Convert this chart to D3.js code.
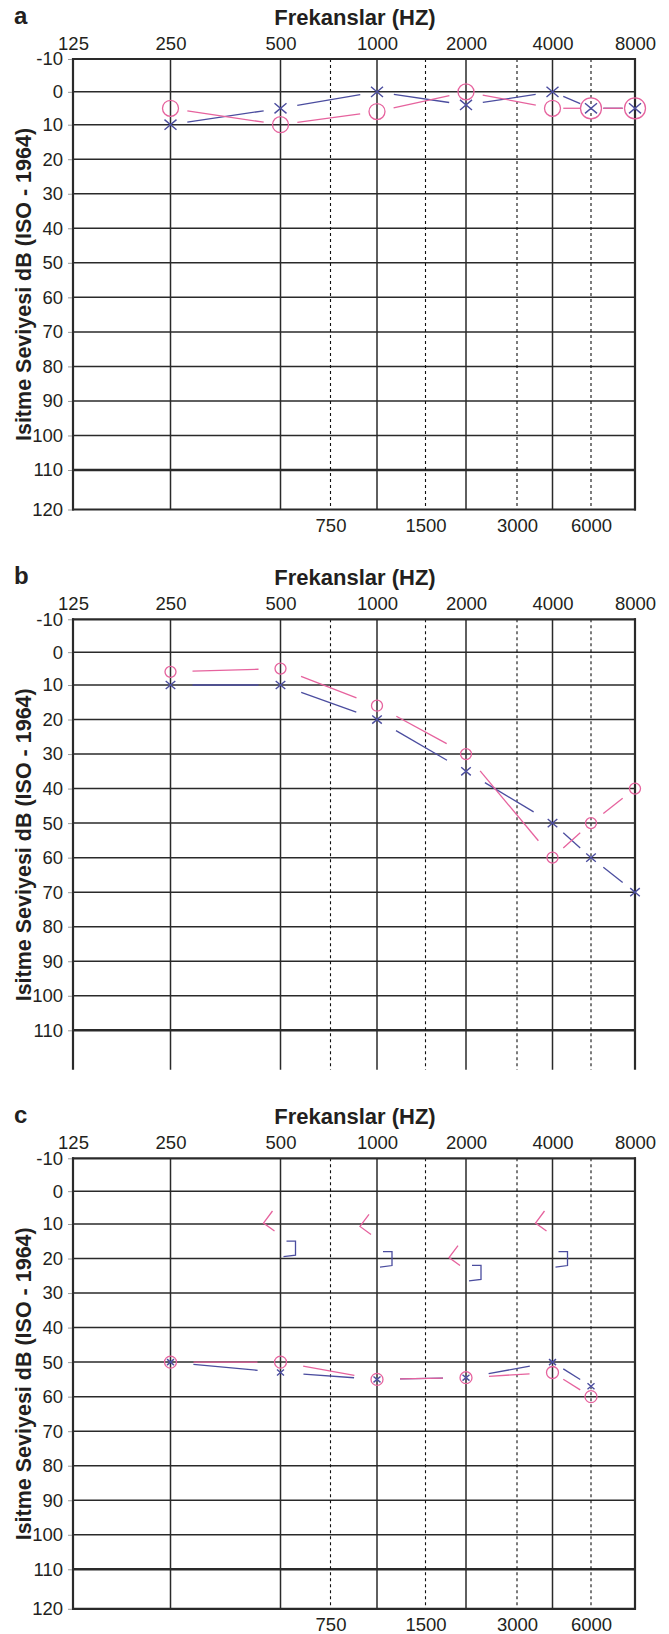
<!DOCTYPE html>
<html>
<head>
<meta charset="utf-8">
<script src="https://cdn.jsdelivr.net/npm/d3@7"></script>
<style>
  body { margin: 0; background: #fff; }
  svg text { font-family: "Liberation Sans", Arial, Helvetica, sans-serif; fill: #231f20; }
</style>
</head>
<body>
<svg id="chart" width="669" height="1634"></svg>
<script>
// axes
// ----------
var topFreqs = [125, 250, 500, 1000, 2000, 4000, 8000];
var midFreqs = [750, 1500, 3000, 6000];
var dbTicks = [-10, 0, 10, 20, 30, 40, 50, 60, 70, 80, 90, 100, 110, 120];

// panel a
var freqsA = [250, 500, 1000, 2000, 4000, 6000, 8000];
var rightA = [5, 10, 6, 0, 5, 5, 5];
var leftA = [10, 5, 0, 4, 0, 5, 5];

// panel b
var freqsB = [250, 500, 1000, 2000, 4000, 6000, 8000];
var rightB = [6, 5, 16, 30, 60, 50, 40];
var leftB = [10, 10, 20, 35, 50, 60, 70];

// panel c
var freqsC = [250, 500, 1000, 2000, 4000, 6000];
var rightC = [50, 50, 55, 54.5, 53, 60];
var leftC = [50, 53, 55, 54.5, 50, 57];
var boneFreqsC = [500, 1000, 2000, 4000];
var boneRightC = [10, 11, 20, 10];
var boneLeftC = [17, 20, 24, 20];

var pink = "#e6639e", blue = "#4b4d9f", ink = "#2a2a2a";
var tickFont = "18.5px";

var svg = d3.select("#chart");

// the audiogram grid is not a true log scale, so each line gets its own stop
var x = d3.scaleLog()
  .domain([125, 250, 500, 750, 1000, 1500, 2000, 3000, 4000, 6000, 8000])
  .range([73, 170.5, 280.5, 330.5, 377, 425.5, 466, 517, 552.5, 591, 635]);

var x0 = x(125), x1 = x(8000);

var panels = [
  { letter: "a", top: 59, closed: true, freqs: freqsA, right: rightA, left: leftA,
    ring: 8, bigRing: 10.5, cross: 6, gap: 17 },
  { letter: "b", top: 619.3, closed: false, freqs: freqsB, right: rightB, left: leftB,
    ring: 5.5, bigRing: 5.5, cross: 4.8, gap: 22 },
  { letter: "c", top: 1158.3, closed: true, freqs: freqsC, right: rightC, left: leftC,
    ring: 6, bigRing: 6, cross: 3.5, gap: 23,
    boneFreqs: boneFreqsC, boneRight: boneRightC, boneLeft: boneLeftC }
];

// plain hyphen for -10, like the printed chart
var plain = function(d) { return String(d); };

panels.forEach(function(p) {
  var g = svg.append("g").attr("class", "panel-" + p.letter);

  // first two rows are drawn a little shorter, the last one a little taller
  var y = d3.scaleLinear()
    .domain([-10, 10, 110, 120])
    .range([p.top, p.top + 65.7, p.top + 411, p.top + 450.5]);
  var yEnd = y(120);

  // grid
  // ----------
  var grid = g.append("g");

  grid.selectAll(".hline")
    .data(d3.range(0, 111, 10))
    .join("line")
      .attr("x1", x0).attr("x2", x1)
      .attr("y1", function(d) { return y(d); })
      .attr("y2", function(d) { return y(d); })
      .attr("stroke", ink)
      .attr("stroke-width", function(d) { return d === 110 ? 2.6 : 1.5; });

  grid.selectAll(".vline")
    .data([250, 500, 1000, 2000, 4000])
    .join("line")
      .attr("x1", function(d) { return x(d); })
      .attr("x2", function(d) { return x(d); })
      .attr("y1", y(-10)).attr("y2", yEnd)
      .attr("stroke", ink)
      .attr("stroke-width", 1.5);

  grid.selectAll(".dline")
    .data(midFreqs)
    .join("line")
      .attr("x1", function(d) { return x(d); })
      .attr("x2", function(d) { return x(d); })
      .attr("y1", y(-10)).attr("y2", yEnd)
      .attr("stroke", "#111")
      .attr("stroke-width", 1.1)
      .attr("stroke-dasharray", "3,3");

  // frame
  grid.selectAll(".border")
    .data([125, 8000])
    .join("line")
      .attr("x1", function(d) { return x(d); })
      .attr("x2", function(d) { return x(d); })
      .attr("y1", y(-10) - 1).attr("y2", yEnd + (p.closed ? 1 : 0))
      .attr("stroke", ink)
      .attr("stroke-width", 2.2);

  grid.append("line")
    .attr("x1", x0 - 1).attr("x2", x1 + 1)
    .attr("y1", y(-10)).attr("y2", y(-10))
    .attr("stroke", ink).attr("stroke-width", 2.2);

  if (p.closed) {
    grid.append("line")
      .attr("x1", x0 - 1).attr("x2", x1 + 1)
      .attr("y1", yEnd).attr("y2", yEnd)
      .attr("stroke", ink).attr("stroke-width", 2.2);
  }

  // axes
  // ----------
  var yAxis = g.append("g")
    .attr("transform", "translate(" + (x0 - 1) + ",0)")
    .call(d3.axisLeft(y)
      .tickValues(p.closed ? dbTicks : dbTicks.slice(0, -1))
      .tickFormat(plain)
      .tickSize(4).tickPadding(5));
  yAxis.select(".domain").remove();
  yAxis.selectAll(".tick line").attr("stroke", "#999");
  yAxis.selectAll("text").style("font-size", tickFont).attr("fill", "#231f20");

  var topAxis = g.append("g")
    .attr("transform", "translate(0," + y(-10) + ")")
    .call(d3.axisTop(x).tickValues(topFreqs).tickSize(0).tickPadding(9)
      .tickFormat(plain));
  topAxis.select(".domain").remove();
  topAxis.selectAll("text").style("font-size", tickFont).attr("fill", "#231f20");

  if (p.closed) {
    var botAxis = g.append("g")
      .attr("transform", "translate(0," + yEnd + ")")
      .call(d3.axisBottom(x).tickValues(midFreqs).tickSize(0).tickPadding(9)
        .tickFormat(plain));
    botAxis.select(".domain").remove();
    botAxis.selectAll("text").style("font-size", tickFont).attr("fill", "#231f20");
  }

  g.append("text")
    .attr("x", 355).attr("y", p.top - 34)
    .attr("text-anchor", "middle")
    .style("font-size", "22px").style("font-weight", "bold")
    .text("Frekanslar (HZ)");

  g.append("text")
    .attr("x", 14).attr("y", p.top - 35)
    .style("font-size", "24px").style("font-weight", "bold")
    .text(p.letter);

  g.append("text")
    .attr("transform", "translate(31," + (p.top + 225.5) + ") rotate(-90)")
    .attr("text-anchor", "middle")
    .style("font-size", "21.5px").style("font-weight", "bold")
    .text("Isitme Seviyesi dB (ISO - 1964)");

  // threshold lines, broken short of each symbol
  // ----------
  function series(vals) {
    return p.freqs.map(function(f, i) { return { f: f, v: vals[i] }; });
  }

  function drawLinks(vals, color) {
    var pts = series(vals);
    var segs = d3.pairs(pts).map(function(pr) {
      var ax = x(pr[0].f), ay = y(pr[0].v), bx = x(pr[1].f), by = y(pr[1].v);
      var len = Math.hypot(bx - ax, by - ay);
      var t = Math.min(p.gap, len * 0.28) / len;
      return [ax + (bx - ax) * t, ay + (by - ay) * t, bx - (bx - ax) * t, by - (by - ay) * t];
    });
    g.append("g").selectAll("line")
      .data(segs)
      .join("line")
        .attr("x1", function(d) { return d[0]; })
        .attr("y1", function(d) { return d[1]; })
        .attr("x2", function(d) { return d[2]; })
        .attr("y2", function(d) { return d[3]; })
        .attr("stroke", color)
        .attr("stroke-width", 1.3);
  }

  drawLinks(p.left, blue);
  drawLinks(p.right, pink);

  // symbols
  var cw = p.cross, ch = p.cross * 0.85;
  g.append("g").selectAll("path")
    .data(series(p.left))
    .join("path")
      .attr("d", function(d) {
        var cx = x(d.f), cy = y(d.v);
        return "M" + (cx - cw) + "," + (cy - ch) + "L" + (cx + cw) + "," + (cy + ch) +
               "M" + (cx - cw) + "," + (cy + ch) + "L" + (cx + cw) + "," + (cy - ch);
      })
      .attr("fill", "none")
      .attr("stroke", blue)
      .attr("stroke-width", 1.4);

  g.append("g").selectAll("circle")
    .data(series(p.right))
    .join("circle")
      .attr("cx", function(d) { return x(d.f); })
      .attr("cy", function(d) { return y(d.v); })
      .attr("r", function(d, i) { return d.v === p.left[i] ? p.bigRing : p.ring; })
      .attr("fill", "none")
      .attr("stroke", pink)
      .attr("stroke-width", 1.3);

  // bone conduction marks
  if (p.boneFreqs) {
    g.append("g").selectAll("path")
      .data(p.boneFreqs.map(function(f, i) { return { f: f, v: p.boneRight[i] }; }))
      .join("path")
        .attr("d", function(d) {
          var cx = x(d.f), cy = y(d.v);
          return "M" + (cx - 8) + "," + (cy - 13) + "L" + (cx - 17) + "," + (cy - 1) +
                 "L" + (cx - 6) + "," + (cy + 7);
        })
        .attr("fill", "none")
        .attr("stroke", pink)
        .attr("stroke-width", 1.3);

    g.append("g").selectAll("path")
      .data(p.boneFreqs.map(function(f, i) { return { f: f, v: p.boneLeft[i] }; }))
      .join("path")
        .attr("d", function(d) {
          var cx = x(d.f), cy = y(d.v);
          return "M" + (cx + 6) + "," + (cy - 7) + "H" + (cx + 15) + "V" + (cy + 7) +
                 "L" + (cx + 3) + "," + (cy + 8.5);
        })
        .attr("fill", "none")
        .attr("stroke", blue)
        .attr("stroke-width", 1.3);
  }
});
</script>
</body>
</html>
